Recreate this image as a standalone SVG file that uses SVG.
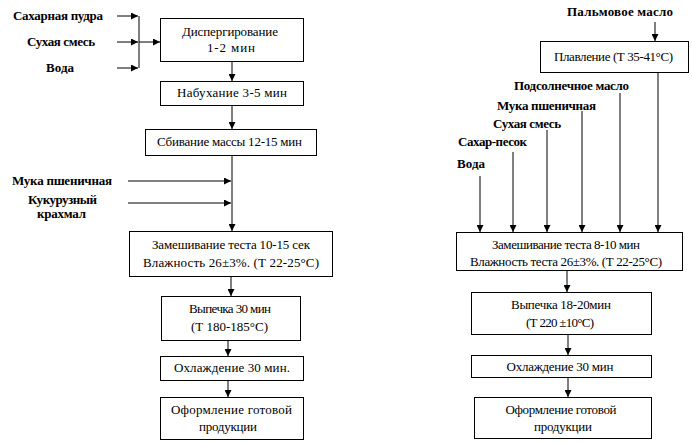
<svg xmlns="http://www.w3.org/2000/svg" width="692" height="442" viewBox="0 0 692 442">
<style>
.box{fill:#fff;stroke:#000;stroke-width:1}
.c{fill:none;stroke:#000;stroke-width:1}
</style>
<defs>
<marker id="ah" markerWidth="7" markerHeight="7" refX="7" refY="3.5" orient="auto" markerUnits="userSpaceOnUse">
<path d="M0,0 L7,3.5 L0,7 Z" fill="#000"/>
</marker>
</defs>
<rect width="692" height="442" fill="#fff"/>
<g id="connectors">
<line class="c" x1="117" y1="16" x2="138" y2="16" marker-end="url(#ah)"/>
<line class="c" x1="117" y1="42" x2="138" y2="42" marker-end="url(#ah)"/>
<line class="c" x1="117" y1="68" x2="138" y2="68" marker-end="url(#ah)"/>
<line class="c" x1="139" y1="16" x2="139" y2="68"/>
<line class="c" x1="139" y1="42" x2="160" y2="42" marker-end="url(#ah)"/>
<line class="c" x1="232" y1="61" x2="232" y2="81" marker-end="url(#ah)"/>
<line class="c" x1="232" y1="105" x2="232" y2="129" marker-end="url(#ah)"/>
<line class="c" x1="232" y1="155" x2="232" y2="231" marker-end="url(#ah)"/>
<line class="c" x1="128" y1="181" x2="231" y2="181" marker-end="url(#ah)"/>
<line class="c" x1="128" y1="203" x2="231" y2="203" marker-end="url(#ah)"/>
<line class="c" x1="231" y1="276" x2="231" y2="296" marker-end="url(#ah)"/>
<line class="c" x1="228" y1="340" x2="228" y2="356" marker-end="url(#ah)"/>
<line class="c" x1="228" y1="380" x2="228" y2="397" marker-end="url(#ah)"/>
<line class="c" x1="655" y1="22" x2="655" y2="41" marker-end="url(#ah)"/>
<line class="c" x1="658" y1="72" x2="658" y2="232" marker-end="url(#ah)"/>
<line class="c" x1="620" y1="93" x2="620" y2="232" marker-end="url(#ah)"/>
<line class="c" x1="582" y1="111" x2="582" y2="232" marker-end="url(#ah)"/>
<line class="c" x1="547" y1="130" x2="547" y2="232" marker-end="url(#ah)"/>
<line class="c" x1="513" y1="152" x2="513" y2="232" marker-end="url(#ah)"/>
<line class="c" x1="480" y1="176" x2="480" y2="232" marker-end="url(#ah)"/>
<line class="c" x1="567" y1="270" x2="567" y2="292" marker-end="url(#ah)"/>
<line class="c" x1="568" y1="334" x2="568" y2="355" marker-end="url(#ah)"/>
<line class="c" x1="568" y1="377" x2="568" y2="397" marker-end="url(#ah)"/>
</g>
<g id="labels-left">
<text font-family="Liberation Serif" font-size="13" font-weight="bold" text-anchor="middle" x="58" y="20" textLength="90" lengthAdjust="spacing">Сахарная пудра</text>
<text font-family="Liberation Serif" font-size="13" font-weight="bold" text-anchor="middle" x="61" y="46" textLength="68" lengthAdjust="spacing">Сухая смесь</text>
<text font-family="Liberation Serif" font-size="13" font-weight="bold" text-anchor="middle" x="60" y="72" textLength="28" lengthAdjust="spacing">Вода</text>
<text font-family="Liberation Serif" font-size="13" font-weight="bold" text-anchor="middle" x="62" y="185" textLength="100" lengthAdjust="spacing">Мука пшеничная</text>
<text font-family="Liberation Serif" font-size="13" font-weight="bold" text-anchor="middle" x="62.5" y="204" textLength="69" lengthAdjust="spacing">Кукурузный</text>
<text font-family="Liberation Serif" font-size="13" font-weight="bold" text-anchor="middle" x="61.5" y="218" textLength="49" lengthAdjust="spacing">крахмал</text>
</g>
<g id="n1"><rect class="box" x="160.5" y="18.5" width="143" height="43"/><text font-family="Liberation Serif" font-size="13" text-anchor="middle" x="230" y="36" textLength="96" lengthAdjust="spacing">Диспергирование</text><text font-family="Liberation Serif" font-size="13" text-anchor="middle" x="231" y="52" textLength="48" lengthAdjust="spacing">1-2 мин</text></g>
<g id="n2"><rect class="box" x="160.5" y="81.5" width="143" height="24"/><text font-family="Liberation Serif" font-size="13" text-anchor="middle" x="232" y="97" textLength="110" lengthAdjust="spacing">Набухание 3-5 мин</text></g>
<g id="n3"><rect class="box" x="145.5" y="129.5" width="171" height="26"/><text font-family="Liberation Serif" font-size="13" text-anchor="middle" x="229.5" y="146" textLength="145" lengthAdjust="spacing">Сбивание массы 12-15 мин</text></g>
<g id="n4"><rect class="box" x="129.5" y="231.5" width="203" height="45"/><text font-family="Liberation Serif" font-size="13" text-anchor="middle" x="231" y="249" textLength="158" lengthAdjust="spacing">Замешивание теста 10-15 сек</text><text font-family="Liberation Serif" font-size="13" text-anchor="middle" x="231" y="267" textLength="176" lengthAdjust="spacing">Влажность 26±3%. (Т 22-25°С)</text></g>
<g id="n5"><rect class="box" x="161.5" y="296.5" width="139" height="44"/><text font-family="Liberation Serif" font-size="13" text-anchor="middle" x="230" y="313" textLength="82" lengthAdjust="spacing">Выпечка 30 мин</text><text font-family="Liberation Serif" font-size="13" text-anchor="middle" x="229.5" y="331" textLength="77" lengthAdjust="spacing">(Т 180-185°С)</text></g>
<g id="n6"><rect class="box" x="160.5" y="356.5" width="143" height="24"/><text font-family="Liberation Serif" font-size="13" text-anchor="middle" x="232" y="372" textLength="116" lengthAdjust="spacing">Охлаждение 30 мин.</text></g>
<g id="n7"><rect class="box" x="160.5" y="397.5" width="143" height="42"/><text font-family="Liberation Serif" font-size="13" text-anchor="middle" x="231.5" y="414" textLength="121" lengthAdjust="spacing">Оформление готовой</text><text font-family="Liberation Serif" font-size="13" text-anchor="middle" x="228" y="431" textLength="58" lengthAdjust="spacing">продукции</text></g>
<g id="labels-right">
<text font-family="Liberation Serif" font-size="13" font-weight="bold" text-anchor="middle" x="620" y="16" textLength="106" lengthAdjust="spacing">Пальмовое масло</text>
<text font-family="Liberation Serif" font-size="13" font-weight="bold" text-anchor="middle" x="571.5" y="90" textLength="115" lengthAdjust="spacing">Подсолнечное масло</text>
<text font-family="Liberation Serif" font-size="13" font-weight="bold" text-anchor="middle" x="546.5" y="110" textLength="99" lengthAdjust="spacing">Мука пшеничная</text>
<text font-family="Liberation Serif" font-size="13" font-weight="bold" text-anchor="middle" x="527" y="128" textLength="68" lengthAdjust="spacing">Сухая смесь</text>
<text font-family="Liberation Serif" font-size="13" font-weight="bold" text-anchor="middle" x="492.5" y="146" textLength="69" lengthAdjust="spacing">Сахар-песок</text>
<text font-family="Liberation Serif" font-size="13" font-weight="bold" text-anchor="middle" x="471" y="168" textLength="28" lengthAdjust="spacing">Вода</text>
</g>
<g id="r1"><rect class="box" x="540.5" y="41.5" width="148" height="31"/><text font-family="Liberation Serif" font-size="13" text-anchor="middle" x="613.5" y="61" textLength="119" lengthAdjust="spacing">Плавление (Т 35-41°С)</text></g>
<g id="r2"><rect class="box" x="456.5" y="232.5" width="226" height="38"/><text font-family="Liberation Serif" font-size="13" text-anchor="middle" x="566" y="249" textLength="148" lengthAdjust="spacing">Замешивание теста 8-10 мин</text><text font-family="Liberation Serif" font-size="13" text-anchor="middle" x="566" y="266" textLength="192" lengthAdjust="spacing">Влажность теста 26±3%. (Т 22-25°С)</text></g>
<g id="r3"><rect class="box" x="471.5" y="292.5" width="180" height="42"/><text font-family="Liberation Serif" font-size="13" text-anchor="middle" x="561" y="309" textLength="100" lengthAdjust="spacing">Выпечка 18-20мин</text><text font-family="Liberation Serif" font-size="13" text-anchor="middle" x="560" y="327" textLength="68" lengthAdjust="spacing">(Т 220 ±10°С)</text></g>
<g id="r4"><rect class="box" x="471.5" y="355.5" width="180" height="22"/><text font-family="Liberation Serif" font-size="13" text-anchor="middle" x="560" y="371" textLength="107" lengthAdjust="spacing">Охлаждение 30 мин</text></g>
<g id="r5"><rect class="box" x="474.5" y="397.5" width="177" height="41"/><text font-family="Liberation Serif" font-size="13" text-anchor="middle" x="561" y="414" textLength="111" lengthAdjust="spacing">Оформление готовой</text><text font-family="Liberation Serif" font-size="13" text-anchor="middle" x="563" y="431" textLength="58" lengthAdjust="spacing">продукции</text></g>
</svg>
